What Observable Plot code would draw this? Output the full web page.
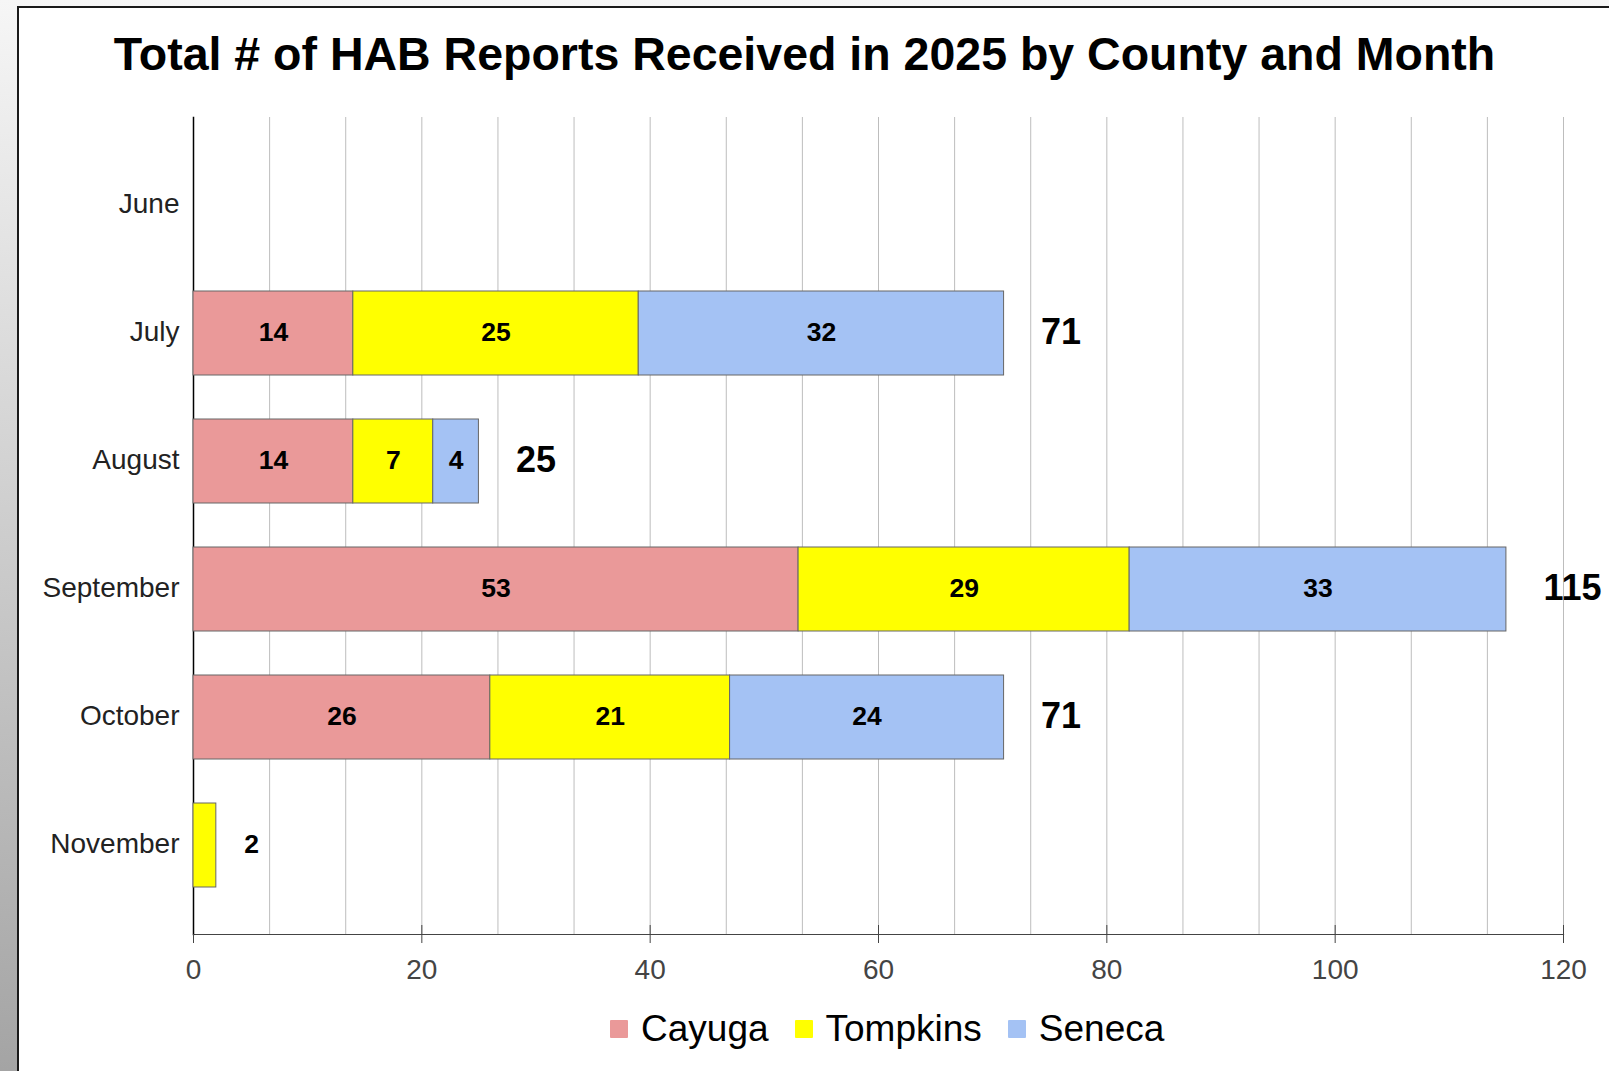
<!DOCTYPE html>
<html>
<head>
<meta charset="utf-8">
<script src="https://cdn.jsdelivr.net/npm/d3@7"></script>
<script src="https://cdn.jsdelivr.net/npm/@observablehq/plot@0.6"></script>
<style>
  html, body { margin: 0; padding: 0; }
  body {
    width: 1609px; height: 1071px; position: relative; overflow: hidden;
    background: linear-gradient(to bottom, #f6f6f6, #a4a4a4);
    font-family: "Liberation Sans", Arial, sans-serif;
  }
  #frame {
    position: absolute; left: 17px; top: 6px; right: 0; bottom: 0;
    background: #fff; border-left: 2px solid #1a1a1a; border-top: 2px solid #1a1a1a;
  }
  #title {
    position: absolute; left: 0; width: 1609px; top: 31px;
    text-align: center; font-weight: bold; font-size: 46.5px; line-height: 47px; color: #000;
  }
  #chart { position: absolute; left: 0; top: 100px; }
  #legend {
    position: absolute; left: 610px; top: 1011px; display: flex; align-items: center;
    font-size: 37px; line-height: 36px; color: #000;
  }
  #legend .item { display: flex; align-items: center; margin-right: 26px; }
  #legend .sw { width: 18px; height: 18px; margin-right: 13px; border-radius: 1px; }
</style>
</head>
<body>
<div id="frame"></div>
<div id="title">Total # of HAB Reports Received in 2025 by County and Month</div>
<div id="chart"></div>
<div id="legend"></div>
<script>
// ---- data ----
const months = ["June", "July", "August", "September", "October", "November"];
const counties = ["Cayuga", "Tompkins", "Seneca"];
const countyColors = ["#ea9999", "#ffff00", "#a4c2f4"];
const cayuga   = [0, 14, 14, 53, 26, 0];
const tompkins = [0, 25,  7, 29, 21, 2];
const seneca   = [0, 32,  4, 33, 24, 0];
const xTicks = [0, 20, 40, 60, 80, 100, 120];

// ---- table built from the arrays ----
const series = {Cayuga: cayuga, Tompkins: tompkins, Seneca: seneca};
const rows = [];
months.forEach((m, i) => {
  counties.forEach(c => {
    if (series[c][i] > 0) rows.push({month: m, county: c, value: series[c][i]});
  });
});
const fits = d => d.value >= 3;
const totals = months.map((m, i) => ({month: m, total: cayuga[i] + tompkins[i] + seneca[i]}));
const outside = rows.filter(d => !fits(d)).map(d => ({...d, total: totals.find(t => t.month === d.month).total}));
const totalLabels = totals.filter(t => t.total > 0 && !outside.some(o => o.month === t.month));
const gridVals = d3.range(0, 19).map(i => i * 20 / 3);

const W = 1609, H = 905;
const chart = Plot.plot({
  width: W, height: H,
  marginTop: 17, marginBottom: 71, marginLeft: 193, marginRight: 46,
  style: {fontFamily: '"Liberation Sans", Arial, sans-serif', background: "transparent", overflow: "visible"},
  x: {domain: [0, 120]},
  y: {domain: months, range: [38.65, 810.85], paddingInner: 0.345, paddingOuter: 0.1725},
  color: {domain: counties, range: countyColors},
  marks: [
    Plot.ruleX(gridVals, {stroke: "#bdbdbd", strokeWidth: 1}),
    Plot.ruleX(xTicks, {stroke: "#444", strokeWidth: 1, insetTop: 808}),
    Plot.frame({anchor: "bottom", stroke: "#444", strokeWidth: 1.2}),
    Plot.frame({anchor: "left", stroke: "#000", strokeWidth: 1.5}),
    Plot.axisX({ticks: xTicks, tickSize: 9, tickPadding: 16, fontSize: 28, color: "#444", stroke: "#444", label: null}),
    Plot.axisY({tickSize: 0, tickPadding: 14, fontSize: 28, color: "#222", label: null, dy: -1}),
    Plot.barX(rows, {y: "month", x: "value", z: "county", fill: "county", stroke: "#666", strokeWidth: 1}),
    Plot.text(rows, Plot.stackX({y: "month", x: "value", z: "county", dy: -1,
      text: d => fits(d) ? d.value : "", fontWeight: "bold", fontSize: 26.5, fill: "#000"})),
    Plot.text(outside, {y: "month", x: "total", text: "value", textAnchor: "start", dx: 28, dy: -1,
      fontWeight: "bold", fontSize: 26.5, fill: "#000"}),
    Plot.text(totalLabels, {y: "month", x: "total", text: "total", textAnchor: "start", dx: 37, dy: -1,
      fontWeight: "bold", fontSize: 36, fill: "#000"})
  ]
});
document.getElementById("chart").appendChild(chart);

// ---- legend ----
const legend = document.getElementById("legend");
counties.forEach((c, i) => {
  const item = document.createElement("div");
  item.className = "item";
  const sw = document.createElement("div");
  sw.className = "sw";
  sw.style.background = countyColors[i];
  const label = document.createElement("span");
  label.textContent = c;
  item.appendChild(sw); item.appendChild(label);
  legend.appendChild(item);
});
</script>
</body>
</html>
